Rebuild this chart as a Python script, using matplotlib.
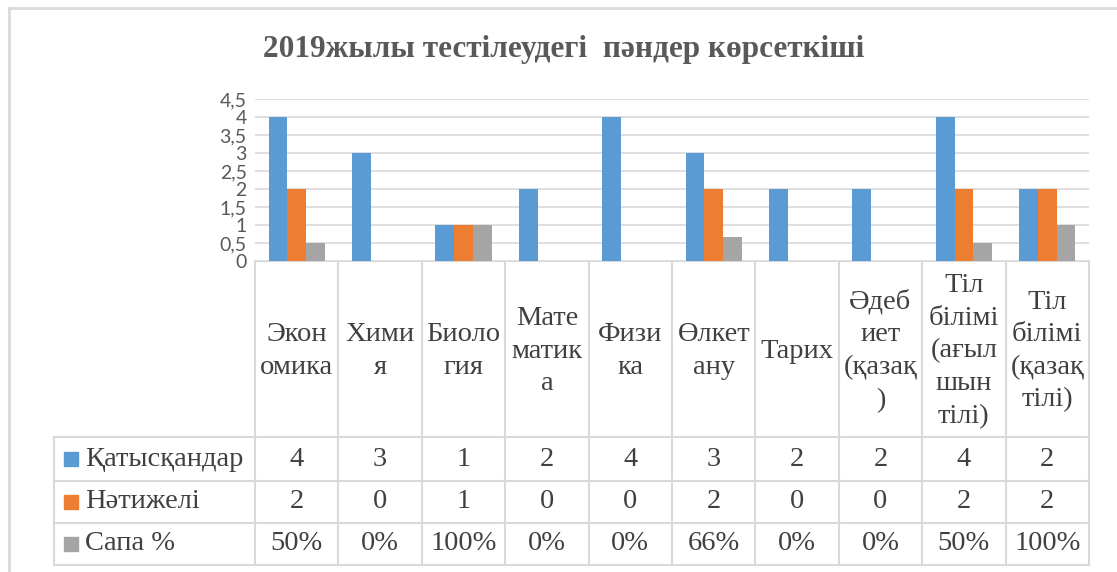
import numpy as np
import matplotlib
matplotlib.use("Agg")
import matplotlib.pyplot as plt

# data
categories = ["Экон\nомика", "Хими\nя", "Биоло\nгия", "Мате\nматик\nа", "Физи\nка",
              "Өлкет\nану", "Тарих", "Әдеб\nиет\n(қазақ\n)", "Тіл\nбілімі\n(ағыл\nшын\nтілі)",
              "Тіл\nбілімі\n(қазақ\nтілі)"]
katysqandar = [4, 3, 1, 2, 4, 3, 2, 2, 4, 2]
natizheli = [2, 0, 1, 0, 0, 2, 0, 0, 2, 2]
sapa_pct = [50, 0, 100, 0, 0, 66, 0, 0, 50, 100]
series_names = ["Қатысқандар", "Нәтижелі", "Сапа %"]
title = "2019жылы тестілеудегі  пәндер көрсеткіші"

plt.rcParams["font.family"] = ["Liberation Serif", "DejaVu Serif"]

colors = ["#5B9BD5", "#ED7D31", "#A5A5A5"]
txt_col = "#404040"
line_col = "#D9D9D9"
fs = 20.5

W, H = 1117, 572
fig = plt.figure(figsize=(W / 100, H / 100), dpi=100)

# pixel layout
x0, x1 = 255, 1089
y_top, y_zero = 99, 261
rows_y = [437, 481, 523, 565]
leg_x = 54

ax = fig.add_axes([x0 / W, 1 - y_zero / H, (x1 - x0) / W, (y_zero - y_top) / H])
n = len(categories)
x = np.arange(n)
w = 0.225
sapa = np.array(sapa_pct) / 100
for i, vals in enumerate([katysqandar, natizheli, sapa]):
    ax.bar(x + (i - 1) * w, vals, w, color=colors[i], zorder=2)
ax.set_xlim(-0.5, n - 0.5)
ax.set_ylim(0, 4.5)
yt = np.arange(0, 4.51, 0.5)
ax.set_yticks(yt)
ax.set_yticklabels([("%g" % v).replace(".", ",") for v in yt],
                   fontfamily="Lato", fontsize=14, color="#595959")
ax.set_xticks([])
ax.tick_params(axis="y", length=0, pad=6)
ax.yaxis.grid(True, color=line_col, lw=1.2)
ax.set_axisbelow(True)
for s in ax.spines.values():
    s.set_visible(False)

# overlay in pixel coords for table and frame
ov = fig.add_axes([0, 0, 1, 1], zorder=-1)
ov.set_xlim(0, W)
ov.set_ylim(H, 0)
ov.axis("off")

# outer chart frame
ov.plot([9, 9], [8, H], color=line_col, lw=2)
ov.plot([9, W], [8, 8], color=line_col, lw=2)

ov.text(564, 50, title, ha="center", va="center", fontsize=22.5, fontweight="bold",
        color="#595959")

cw = (x1 - x0) / n
ov.plot([x0, x1], [y_zero, y_zero], color=line_col, lw=1.5)
for ry in rows_y:
    ov.plot([leg_x, x1], [ry, ry], color=line_col, lw=1.5)
for i in range(n + 1):
    ov.plot([x0 + i * cw] * 2, [y_zero, rows_y[-1]], color=line_col, lw=1.5)
ov.plot([leg_x, leg_x], [rows_y[0], rows_y[-1]], color=line_col, lw=1.5)

for i, c in enumerate(categories):
    ov.text(x0 + (i + 0.5) * cw, (y_zero + rows_y[0]) / 2 + 2, c, ha="center", va="center",
            fontsize=fs, color=txt_col, linespacing=1.4)

row_vals = [[str(v) for v in katysqandar], [str(v) for v in natizheli],
            ["%d%%" % v for v in sapa_pct]]
for r in range(3):
    cy = (rows_y[r] + rows_y[r + 1]) / 2
    ov.add_patch(plt.Rectangle((64, cy - 7), 14, 14, color=colors[r]))
    ov.text(85, cy, series_names[r], ha="left", va="center", fontsize=fs, color=txt_col)
    for i, v in enumerate(row_vals[r]):
        ov.text(x0 + (i + 0.5) * cw, cy, v, ha="center", va="center", fontsize=fs,
                color=txt_col)

fig.savefig("out.png", dpi=100)
